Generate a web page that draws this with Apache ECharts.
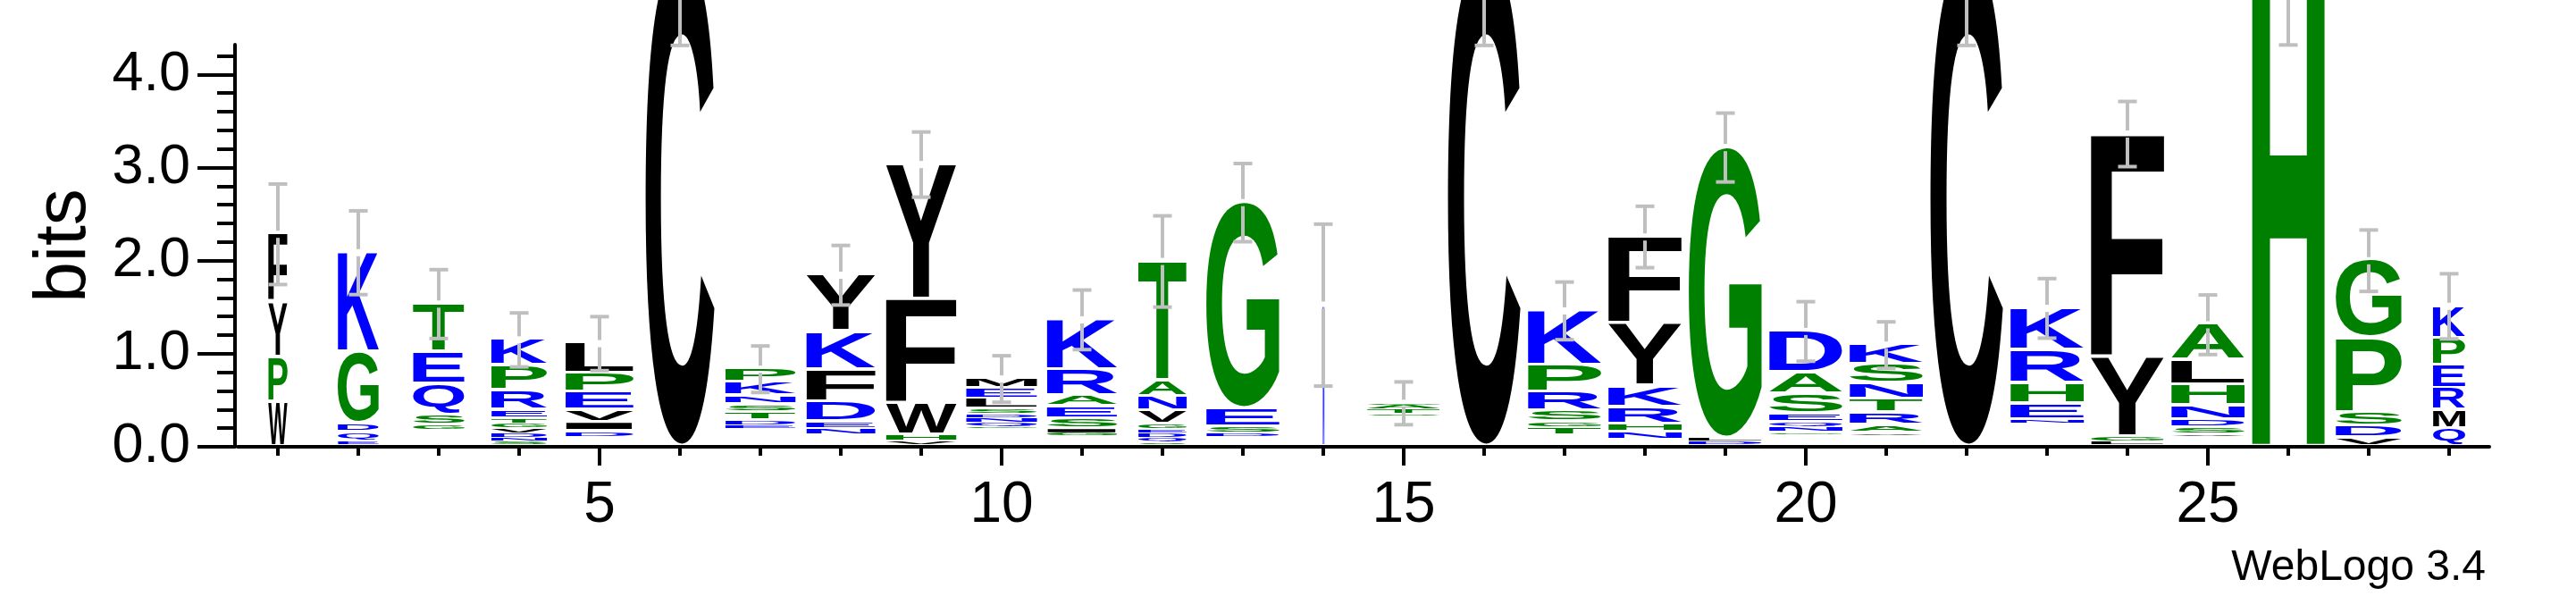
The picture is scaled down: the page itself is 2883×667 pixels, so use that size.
<!DOCTYPE html>
<html><head><meta charset="utf-8">
<script src="https://cdn.jsdelivr.net/npm/echarts@6/dist/echarts.min.js"></script>
<style>html,body{margin:0;padding:0;background:#fff}#c{width:2883px;height:667px}</style>
</head><body><div id="c"></div>
<script>
const positions = [1,2,3,4,5,6,7,8,9,10,11,12,13,14,15,16,17,18,19,20,21,22,23,24,25,26,27,28];
// letters of each stack, bottom -> top
const stackLetters = [
  ['W','P','Y','F'],
  ['E','Q','D','G','K'],
  ['G','S','Q','E','T'],
  ['S','N','D','V','G','T','E','R','P','K'],
  ['D','I','V','E','P','L'],
  ['C'],
  ['E','D','T','S','N','K','P'],
  ['N','E','D','F','K','Y'],
  ['V','H','W','F','Y'],
  ['G','Q','N','D','S','L','E','M'],
  ['G','I','S','E','A','R','K'],
  ['S','Q','D','E','G','V','N','A','T'],
  ['D','S','E','G'],
  ['N'],
  ['S','T','A','G'],
  ['C'],
  ['T','G','S','R','P','K'],
  ['N','H','R','K','Y','F'],
  ['D','L','G'],
  ['G','N','Q','E','S','A','D'],
  ['V','A','R','T','N','S','K'],
  ['C'],
  ['N','E','H','R','K'],
  ['L','G','Y','F'],
  ['V','S','D','N','H','L','A'],
  ['H'],
  ['V','D','S','P','G'],
  ['Q','M','R','E','P','K']
];
// letter heights in bits, bottom -> top
const stackBits = [
  [0.446,0.48,0.59,0.735],
  [0.02,0.10,0.093,0.77,1.07],
  [0.032,0.112,0.336,0.343,0.52],
  [0.02,0.034,0.048,0.055,0.055,0.054,0.09,0.21,0.27,0.28],
  [0.042,0.10,0.134,0.186,0.207,0.323],
  [5.25],
  [0.025,0.051,0.092,0.08,0.10,0.144,0.144],
  [0.048,0.07,0.218,0.345,0.406,0.614],
  [0.02,0.07,0.34,1.12,1.45],
  [0.016,0.042,0.048,0.041,0.051,0.112,0.115,0.106],
  [0.019,0.051,0.105,0.128,0.115,0.285,0.541],
  [0.014,0.041,0.052,0.035,0.064,0.137,0.16,0.166,1.29],
  [0.025,0.074,0.192,2.22],
  [1.49],
  [0.01,0.054,0.048,0.023],
  [5.25],
  [0.055,0.063,0.115,0.205,0.29,0.59],
  [0.055,0.089,0.182,0.224,0.672,0.938],
  [0.021,0.032,3.13],
  [0.013,0.058,0.044,0.096,0.211,0.23,0.451],
  [0.013,0.083,0.134,0.144,0.17,0.208,0.214],
  [5.25],
  [0.026,0.173,0.218,0.355,0.455],
  [0.02,0.048,0.86,2.40],
  [0.013,0.074,0.089,0.147,0.227,0.262,0.388],
  [5.2],
  [0.056,0.129,0.144,0.80,0.838],
  [0.152,0.199,0.24,0.25,0.288,0.348]
];
// height of tiny (undrawn) letters under each stack, bits
const undrawnBits = [0,0,0.158,0,0.084,0,0.165,0.11,0,0.165,0.088,0,0.08,0,0.30,0,0.11,0.062,0,0.104,0.094,0,0.228,0,0.079,0,0,0];
// error bar half-heights, bits
const errorBits = [0.54,0.45,0.37,0.29,0.29,0.97,0.25,0.32,0.35,0.25,0.32,0.49,0.42,0.87,0.23,0.97,0.31,0.33,0.37,0.32,0.25,0.97,0.32,0.35,0.32,0.915,0.33,0.35];
// stack width as fraction of a full column (share of non-gap sequences)
const stackWidth = [0.26,0.56,0.70,0.76,0.93,0.94,0.96,0.94,0.96,0.97,0.96,0.66,1.0,0.026,1.0,0.99,1.0,1.0,1.0,1.0,1.0,0.99,1.0,1.0,1.0,0.99,0.90,0.44];
const xTickLabels = [5,10,15,20,25];
const yTickLabels = [0,1,2,3,4];
const yMinorTicks = [0.2,0.4,0.6,0.8,1.2,1.4,1.6,1.8,2.2,2.4,2.6,2.8,3.2,3.4,3.6,3.8,4.2];
const colorGroups = { '#0000ff': 'RKDENQ', '#008000': 'SGHTAP', '#000000': 'YVMCLFIW' };

// ---- rendering helpers ----
const FULLW = 82 / 90;   // glyph column width relative to position spacing
const BASE = 0.032;      // small lift of stacks above the axis line
const FONT = 'bold 200px "Liberation Sans"';
function letterColor(ch) {
  for (const c in colorGroups) if (colorGroups[c].indexOf(ch) >= 0) return c;
  return '#000000';
}
const mcv = document.createElement('canvas').getContext('2d');
mcv.font = FONT; mcv.textBaseline = 'middle'; mcv.textAlign = 'left';
const metrics = {};
function metr(ch) {
  if (!metrics[ch]) {
    const m = mcv.measureText(ch);
    metrics[ch] = { L: m.actualBoundingBoxLeft, R: m.actualBoundingBoxRight, A: m.actualBoundingBoxAscent, D: m.actualBoundingBoxDescent };
  }
  return metrics[ch];
}

const letterItems = [], letterChars = [], errItems = [];
positions.forEach((p, i) => {
  let cum = BASE + undrawnBits[i];
  stackLetters[i].forEach((ch, j) => {
    const h = stackBits[i][j];
    letterItems.push([p, cum, cum + h, stackWidth[i], j === 0 ? 1 : 0]);
    letterChars.push(ch);
    cum += h;
  });
  errItems.push([p, cum, errorBits[i]]);
});

function renderLetter(params, api) {
  const ch = letterChars[params.dataIndex];
  const pos = api.value(0), b = api.value(1), t = api.value(2), wf = api.value(3), first = api.value(4);
  const pb = api.coord([pos, b]), pt = api.coord([pos, t]);
  const unit = api.size([1, 0])[0];
  const w = Math.max(unit * FULLW * wf, 0.8);
  const x0 = pb[0] - w / 2;
  let yb = pb[1]; const yt = pt[1];
  const hpx = yb - yt;
  if (!first) yb -= Math.min(3.5, 0.35 * hpx);
  const m = metr(ch);
  const sx = w / (m.L + m.R), sy = Math.max(yb - yt, 0.2) / (m.A + m.D);
  return {
    type: 'text', x: x0 + m.L * sx, y: yt + m.A * sy, scaleX: sx, scaleY: sy, silent: true,
    style: { text: ch, font: FONT, fill: letterColor(ch), align: 'left', verticalAlign: 'middle', legacy: false }
  };
}
function renderErr(params, api) {
  const pos = api.value(0), top = api.value(1), e = api.value(2);
  const a = api.coord([pos, top + e]), c = api.coord([pos, top]), b = api.coord([pos, top - e]);
  const x = c[0], cap = 10.5, gap = 4;
  const st = { stroke: '#bfbfbf', lineWidth: 4 };
  return {
    type: 'group', silent: true, children: [
      { type: 'line', shape: { x1: x, y1: a[1], x2: x, y2: c[1] - gap }, style: st },
      { type: 'line', shape: { x1: x, y1: c[1] + gap, x2: x, y2: b[1] }, style: st },
      { type: 'line', shape: { x1: x - cap, y1: a[1], x2: x + cap, y2: a[1] }, style: st },
      { type: 'line', shape: { x1: x - cap, y1: b[1], x2: x + cap, y2: b[1] }, style: st }
    ]
  };
}

const FAM = '"Liberation Sans", Arial, sans-serif';
const chart = echarts.init(document.getElementById('c'), null, { renderer: 'canvas' });
chart.setOption({
  animation: false,
  backgroundColor: '#ffffff',
  grid: { left: 266, right: 97, top: 50, bottom: 167, containLabel: false },
  xAxis: [{
    type: 'value', min: 0.5, max: 28.5, position: 'bottom',
    axisLine: { show: true, lineStyle: { color: '#000', width: 4 } },
    axisTick: { show: true, customValues: xTickLabels, length: 21, lineStyle: { color: '#000', width: 4 } },
    axisLabel: { show: true, customValues: xTickLabels, margin: 34, fontSize: 64, fontFamily: FAM, color: '#000' },
    splitLine: { show: false }
  }, {
    type: 'value', min: 0.5, max: 28.5, position: 'bottom', gridIndex: 0,
    axisLine: { show: false },
    axisTick: { show: true, customValues: positions, length: 10, lineStyle: { color: '#000', width: 4 } },
    axisLabel: { show: false },
    splitLine: { show: false }
  }],
  yAxis: [{
    type: 'value', min: 0, max: 4.32, position: 'left', offset: 3,
    name: 'bits', nameLocation: 'middle', nameGap: 150, nameRotate: 90,
    nameTextStyle: { fontSize: 82, fontFamily: FAM, color: '#000' },
    axisLine: { show: true, lineStyle: { color: '#000', width: 4 } },
    axisTick: { show: true, customValues: yTickLabels, length: 42, lineStyle: { color: '#000', width: 4 } },
    axisLabel: { show: true, customValues: yTickLabels, margin: 50, fontSize: 63, fontFamily: FAM, color: '#000',
      formatter: v => Number(v).toFixed(1) },
    splitLine: { show: false }
  }, {
    type: 'value', min: 0, max: 4.32, position: 'left', offset: 3,
    axisLine: { show: false },
    axisTick: { show: true, customValues: yMinorTicks, length: 20, lineStyle: { color: '#000', width: 4 } },
    axisLabel: { show: false },
    splitLine: { show: false }
  }],
  series: [{
    type: 'custom', xAxisIndex: 0, yAxisIndex: 0, renderItem: renderLetter, data: letterItems,
    encode: { x: 0, y: [1, 2] }, clip: false, z: 2
  }, {
    type: 'custom', xAxisIndex: 0, yAxisIndex: 0, renderItem: renderErr, data: errItems,
    encode: { x: 0, y: 1 }, clip: false, z: 3
  }],
  graphic: [{
    type: 'text', right: 101, top: 612, silent: true,
    style: { text: 'WebLogo 3.4', font: '48px "Liberation Sans"', fill: '#000' }
  }]
});
</script></body></html>
